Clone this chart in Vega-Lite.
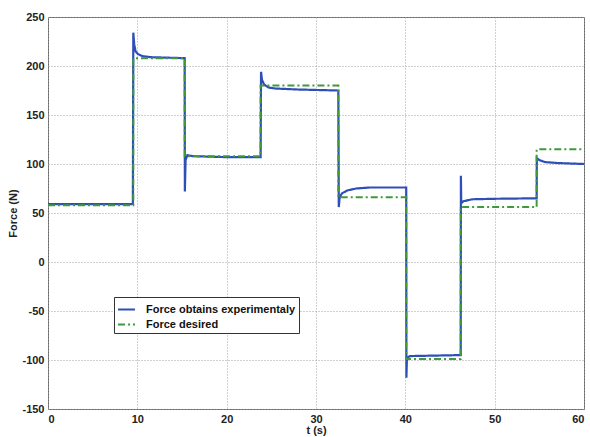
{
  "$schema": "https://vega.github.io/schema/vega-lite/v6.json",
  "width": 536,
  "height": 392,
  "autosize": {"type": "none"},
  "padding": {"left": 48, "top": 17, "right": 6, "bottom": 28},
  "background": "white",
  "config": {
    "font": "Liberation Sans",
    "view": {"stroke": "#666666", "strokeWidth": 1},
    "axis": {
      "labelFont": "Liberation Sans",
      "labelFontWeight": "bold",
      "labelFontSize": 11,
      "labelColor": "#222222",
      "titleFont": "Liberation Sans",
      "titleFontWeight": "bold",
      "titleFontSize": 11,
      "titleColor": "#222222",
      "grid": true,
      "gridColor": "#a0a0a0",
      "gridDash": [1, 2],
      "gridWidth": 1,
      "domain": false,
      "ticks": false
    }
  },
  "data": {
    "values": [
      {"series": "Force obtains experimentaly", "t": 0, "F": 59},
      {"series": "Force obtains experimentaly", "t": 9.5, "F": 59},
      {"series": "Force obtains experimentaly", "t": 9.55, "F": 234},
      {"series": "Force obtains experimentaly", "t": 9.65, "F": 222},
      {"series": "Force obtains experimentaly", "t": 9.8, "F": 215},
      {"series": "Force obtains experimentaly", "t": 10.1, "F": 212},
      {"series": "Force obtains experimentaly", "t": 10.6, "F": 210},
      {"series": "Force obtains experimentaly", "t": 11.5, "F": 209},
      {"series": "Force obtains experimentaly", "t": 15.3, "F": 208},
      {"series": "Force obtains experimentaly", "t": 15.32, "F": 72},
      {"series": "Force obtains experimentaly", "t": 15.4, "F": 104},
      {"series": "Force obtains experimentaly", "t": 15.6, "F": 109},
      {"series": "Force obtains experimentaly", "t": 16.2, "F": 108},
      {"series": "Force obtains experimentaly", "t": 20, "F": 107},
      {"series": "Force obtains experimentaly", "t": 23.8, "F": 107},
      {"series": "Force obtains experimentaly", "t": 23.85, "F": 194},
      {"series": "Force obtains experimentaly", "t": 23.95, "F": 186},
      {"series": "Force obtains experimentaly", "t": 24.2, "F": 181},
      {"series": "Force obtains experimentaly", "t": 24.7, "F": 178},
      {"series": "Force obtains experimentaly", "t": 25.5, "F": 177},
      {"series": "Force obtains experimentaly", "t": 28, "F": 176},
      {"series": "Force obtains experimentaly", "t": 32.5, "F": 175},
      {"series": "Force obtains experimentaly", "t": 32.55, "F": 56},
      {"series": "Force obtains experimentaly", "t": 32.65, "F": 66},
      {"series": "Force obtains experimentaly", "t": 32.9, "F": 70},
      {"series": "Force obtains experimentaly", "t": 33.5, "F": 73},
      {"series": "Force obtains experimentaly", "t": 34.5, "F": 75},
      {"series": "Force obtains experimentaly", "t": 36, "F": 76},
      {"series": "Force obtains experimentaly", "t": 40.1, "F": 76},
      {"series": "Force obtains experimentaly", "t": 40.12, "F": -118},
      {"series": "Force obtains experimentaly", "t": 40.18, "F": -98},
      {"series": "Force obtains experimentaly", "t": 40.5, "F": -96},
      {"series": "Force obtains experimentaly", "t": 46.2, "F": -95},
      {"series": "Force obtains experimentaly", "t": 46.22, "F": 88},
      {"series": "Force obtains experimentaly", "t": 46.26, "F": 60},
      {"series": "Force obtains experimentaly", "t": 46.5, "F": 62},
      {"series": "Force obtains experimentaly", "t": 47.5, "F": 64},
      {"series": "Force obtains experimentaly", "t": 50, "F": 64.5},
      {"series": "Force obtains experimentaly", "t": 54.7, "F": 65},
      {"series": "Force obtains experimentaly", "t": 54.72, "F": 106},
      {"series": "Force obtains experimentaly", "t": 55, "F": 104},
      {"series": "Force obtains experimentaly", "t": 55.6, "F": 102},
      {"series": "Force obtains experimentaly", "t": 57, "F": 101},
      {"series": "Force obtains experimentaly", "t": 60, "F": 100},
      {"series": "Force desired", "t": 0, "F": 58},
      {"series": "Force desired", "t": 9.55, "F": 58},
      {"series": "Force desired", "t": 9.55, "F": 208},
      {"series": "Force desired", "t": 15.3, "F": 208},
      {"series": "Force desired", "t": 15.3, "F": 108},
      {"series": "Force desired", "t": 23.8, "F": 108},
      {"series": "Force desired", "t": 23.8, "F": 180},
      {"series": "Force desired", "t": 32.5, "F": 180},
      {"series": "Force desired", "t": 32.5, "F": 66},
      {"series": "Force desired", "t": 40.1, "F": 66},
      {"series": "Force desired", "t": 40.1, "F": -99},
      {"series": "Force desired", "t": 46.2, "F": -99},
      {"series": "Force desired", "t": 46.2, "F": 56},
      {"series": "Force desired", "t": 54.7, "F": 56},
      {"series": "Force desired", "t": 54.7, "F": 115},
      {"series": "Force desired", "t": 60, "F": 115}
    ]
  },
  "encoding": {
    "x": {
      "field": "t", "type": "quantitative",
      "scale": {"domain": [0, 60], "nice": false, "zero": false},
      "axis": {"values": [0, 10, 20, 30, 40, 50, 60], "title": "t (s)", "labelPadding": 4, "titlePadding": 0}
    },
    "y": {
      "field": "F", "type": "quantitative",
      "scale": {"domain": [-150, 250], "nice": false, "zero": false},
      "axis": {"values": [-150, -100, -50, 0, 50, 100, 150, 200, 250], "labelExpr": "toString(datum.value)", "title": "Force (N)", "labelPadding": 4, "titlePadding": 3}
    },
    "color": {
      "field": "series", "type": "nominal",
      "scale": {"domain": ["Force obtains experimentaly", "Force desired"], "range": ["#2f4fb8", "#3f9a3c"]},
      "legend": {
        "title": null,
        "orient": "none",
        "legendX": 66,
        "legendY": 280,
        "fillColor": "white",
        "strokeColor": "#333333",
        "padding": 3,
        "rowPadding": 0,
        "labelFont": "Liberation Sans",
        "labelFontWeight": "bold",
        "labelFontSize": 11,
        "labelColor": "#111111",
        "labelOffset": 10,
        "symbolType": "stroke",
        "symbolSize": 289,
        "symbolStrokeWidth": 2
      }
    },
    "strokeDash": {
      "field": "series", "type": "nominal",
      "scale": {"domain": ["Force obtains experimentaly", "Force desired"], "range": [[1, 0], [7, 3, 2, 3]]},
      "legend": null
    },
    "order": {"value": null}
  },
  "layer": [
    {
      "transform": [{"filter": "datum.series === 'Force obtains experimentaly'"}],
      "mark": {"type": "line", "strokeWidth": 2.2, "interpolate": "linear"}
    },
    {
      "transform": [{"filter": "datum.series === 'Force desired'"}],
      "mark": {"type": "line", "strokeWidth": 2, "interpolate": "linear"}
    }
  ]
}
